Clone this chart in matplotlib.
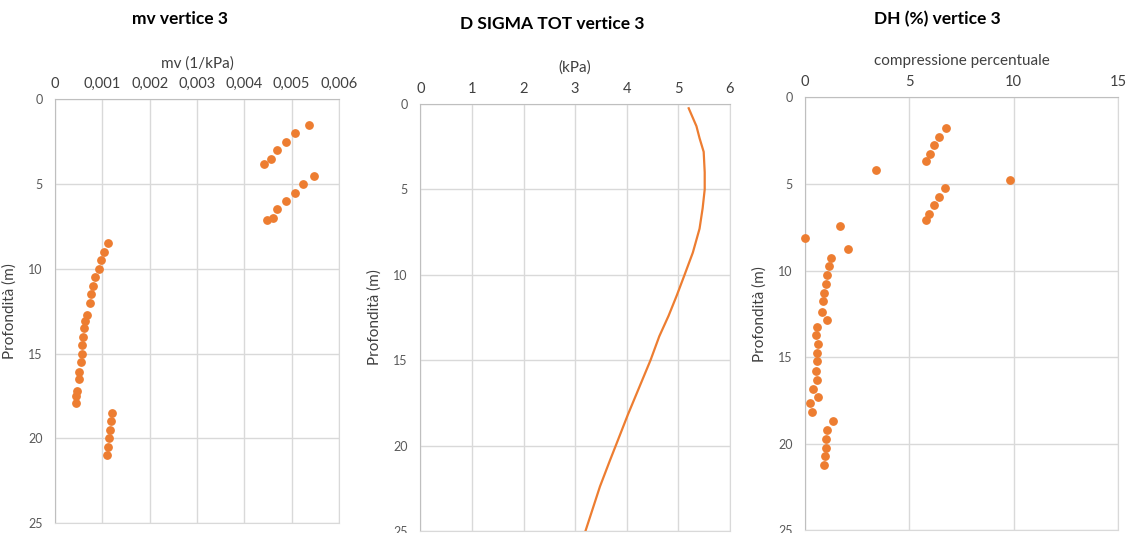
import matplotlib
matplotlib.use("Agg")
import matplotlib.pyplot as plt
from matplotlib.ticker import FuncFormatter

plt.rcParams['font.family'] = ['Lato', 'DejaVu Sans']

# mv vertice 3
mv_depth = [1.5, 2.0, 2.5, 3.0, 3.5, 3.8,
            4.5, 5.0, 5.5, 6.0, 6.5, 7.0, 7.1,
            8.5, 9.0, 9.5, 10.0, 10.5, 11.0, 11.5, 12.0, 12.7, 13.1,
            13.5, 14.0, 14.5, 15.0, 15.5, 16.1, 16.5, 17.2, 17.5, 17.9,
            18.5, 19.0, 19.5, 20.0, 20.5, 21.0]
mv_val = [0.00537, 0.00506, 0.00487, 0.00470, 0.00456, 0.00441,
          0.00548, 0.00525, 0.00506, 0.00487, 0.00470, 0.00460, 0.00447,
          0.00113, 0.00104, 0.00098, 0.00092, 0.00085, 0.00081, 0.00077, 0.00073, 0.00068, 0.00064,
          0.00062, 0.00060, 0.00058, 0.00056, 0.00054, 0.00051, 0.00050, 0.00047, 0.00045, 0.00045,
          0.00120, 0.00118, 0.00116, 0.00114, 0.00112, 0.00110]

# D SIGMA TOT vertice 3
ds_depth = [0.25, 1.3, 2.0, 2.8, 4.0, 5.0, 6.1, 7.3, 8.7, 10.0, 11.2, 12.4,
            13.6, 15.0, 16.6, 18.2, 19.9, 20.9, 22.4, 25.0]
ds_val = [5.20, 5.35, 5.41, 5.49, 5.51, 5.51, 5.47, 5.41, 5.28, 5.12, 4.97, 4.81,
          4.63, 4.46, 4.24, 4.02, 3.80, 3.67, 3.48, 3.20]

# DH (%) vertice 3
dh_depth = [1.76, 2.28, 2.75, 3.25, 3.65, 4.17, 4.75, 5.25, 5.77, 6.23, 6.75, 7.1,
            7.45, 8.12, 8.76, 9.26, 9.72, 10.24, 10.76, 11.28, 11.74, 12.38, 12.88,
            13.28, 13.75, 14.27, 14.77, 15.23, 15.79, 16.31, 16.83, 17.33, 17.68,
            18.2, 18.72, 19.24, 19.76, 20.28, 20.72, 21.24]
dh_val = [6.78, 6.40, 6.20, 6.01, 5.82, 3.38, 9.84, 6.73, 6.44, 6.20, 5.92, 5.78,
          1.68, 0.0, 2.05, 1.25, 1.16, 1.06, 1.02, 0.92, 0.87, 0.83, 1.06,
          0.59, 0.54, 0.63, 0.59, 0.59, 0.54, 0.59, 0.40, 0.63, 0.25,
          0.35, 1.35, 1.06, 1.02, 1.02, 0.97, 0.92]

ORANGE = '#ED7D31'
W, H = 1128, 533


def comma(v, pos):
    s = ('%g' % v) if v != 0 else '0'
    return s.replace('.', ',')


def setup(ax, xlim, xticks, xlabel):
    ax.set_xlim(*xlim)
    ax.set_ylim(25, 0)
    ax.set_xticks(xticks)
    ax.set_yticks([0, 5, 10, 15, 20, 25])
    ax.xaxis.tick_top()
    ax.xaxis.set_label_position('top')
    ax.xaxis.set_major_formatter(FuncFormatter(comma))
    ax.tick_params(axis='x', length=0, pad=6, labelsize=10.5, labelcolor='#404040')
    ax.tick_params(axis='y', length=0, pad=9, labelsize=9, labelcolor='#595959')
    ax.grid(True, color='#D9D9D9', linewidth=1)
    ax.set_axisbelow(True)
    for s in ['right', 'bottom']:
        ax.spines[s].set_color('#D9D9D9')
    for s in ['left', 'top']:
        ax.spines[s].set_color('#BFBFBF')
    ax.set_xlabel(xlabel, fontsize=11, color='#404040', labelpad=7)
    ax.set_ylabel('Profondità (m)', fontsize=11, color='#404040', labelpad=8)


def box(l, r, t, b):
    return [l / W, 1 - b / H, (r - l) / W, (b - t) / H]


fig = plt.figure(figsize=(11.28, 5.33), dpi=100)

ax1 = fig.add_axes(box(55, 339, 99.3, 523))
ax1.scatter(mv_val, mv_depth, s=28, color=ORANGE, zorder=3)
setup(ax1, (0, 0.006), [0, 0.001, 0.002, 0.003, 0.004, 0.005, 0.006], 'mv (1/kPa)')

ax2 = fig.add_axes(box(420.3, 730, 104, 531))
ax2.plot(ds_val, ds_depth, color=ORANGE, linewidth=1.6, zorder=3)
setup(ax2, (0, 6), [0, 1, 2, 3, 4, 5, 6], '(kPa)')

ax3 = fig.add_axes(box(805, 1118, 97.5, 530))
ax3.scatter(dh_val, dh_depth, s=28, color=ORANGE, zorder=3, clip_on=False)
setup(ax3, (0, 15), [0, 5, 10, 15], 'compressione percentuale')

fig.text(180 / W, 1 - 19 / H, 'mv vertice 3', fontsize=12.5, fontweight='bold', ha='center', va='center')
fig.text(552 / W, 1 - 24 / H, 'D SIGMA TOT vertice 3', fontsize=12.5, fontweight='bold', ha='center', va='center')
fig.text(937 / W, 1 - 19 / H, 'DH (%) vertice 3', fontsize=12.5, fontweight='bold', ha='center', va='center')

fig.savefig('out.png', dpi=100)
